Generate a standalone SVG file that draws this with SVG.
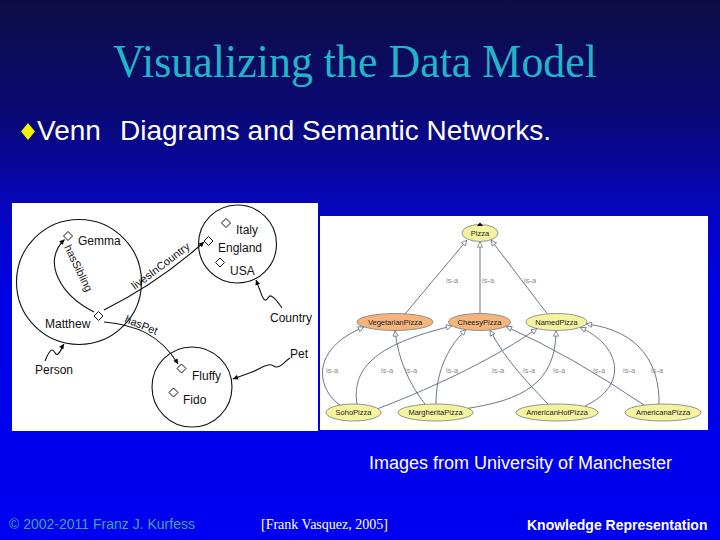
<svg xmlns="http://www.w3.org/2000/svg" width="720" height="540" viewBox="0 0 720 540">
<defs>
  <linearGradient id="bg" x1="0" y1="0" x2="0" y2="1">
    <stop offset="0" stop-color="#0d0d45"/>
    <stop offset="0.2" stop-color="#0a0a72"/>
    <stop offset="0.4" stop-color="#0505c2"/>
    <stop offset="0.55" stop-color="#0000e6"/>
    <stop offset="1" stop-color="#0000f2"/>
  </linearGradient>
  <marker id="blk" viewBox="0 0 10 10" refX="10" refY="5" markerWidth="6" markerHeight="5" markerUnits="userSpaceOnUse" orient="auto">
    <path d="M0,0 L10,5 L0,10 z" fill="#000"/>
  </marker>
  <marker id="open" viewBox="0 0 10 10" refX="10" refY="5" markerWidth="7" markerHeight="6" markerUnits="userSpaceOnUse" orient="auto">
    <path d="M0.6,0.6 L9.4,5 L0.6,9.4 z" fill="#fff" stroke="#5a6878" stroke-width="1.2"/>
  </marker>
</defs>
<style>
  .title{font-family:"Liberation Serif","Times New Roman",serif;fill:#22b4c8}
  .bul{font-family:"Liberation Sans",Arial,sans-serif;font-size:28px;fill:#ffffff}
  .vt{font-family:"Liberation Sans",Arial,sans-serif;font-size:12px;fill:#111}
  .rl{font-family:"Liberation Sans",Arial,sans-serif;font-size:11px;fill:#111}
  .cls{fill:none;stroke:#111;stroke-width:1.1}
  .ind{fill:#fff;stroke:#111;stroke-width:1}
  .rel{fill:none;stroke:#111;stroke-width:1.1;marker-end:url(#blk)}
  .ell{stroke:#7a7a7a;stroke-width:0.8}
  .yel{fill:#f4f4a0}
  .org{fill:#f4b47c}
  .pt{font-family:"Liberation Sans",Arial,sans-serif;font-size:7.5px;fill:#222;text-anchor:middle}
  .isa{fill:none;stroke:#5a6878;stroke-width:0.9;marker-end:url(#open)}
  .il{font-family:"Liberation Sans",Arial,sans-serif;font-size:7.5px;fill:#8a8a8a}
  .ft{font-family:"Liberation Sans",Arial,sans-serif}
</style>
<rect x="0" y="0" width="720" height="540" fill="url(#bg)"/>

<text class="title" x="355" y="77" font-size="46" text-anchor="middle" textLength="484" lengthAdjust="spacingAndGlyphs">Visualizing the Data Model</text>
<polygon points="28,123 35,131.5 28,140 21,131.5" fill="#f2f200"/>
<text class="bul" y="140"><tspan x="37">Venn</tspan><tspan x="120">Diagrams and Semantic Networks.</tspan></text>

<!-- Venn diagram image -->
<g id="venn">
  <rect x="12" y="203" width="306" height="228" fill="#ffffff"/>
  <g id="Person">
    <circle class="cls" cx="79" cy="282" r="62.5"/>
    <text class="vt" x="35" y="374">Person</text>
  </g>
  <g id="Country">
    <circle class="cls" cx="237.5" cy="244" r="39"/>
    <text class="vt" x="270" y="322">Country</text>
  </g>
  <g id="Pet">
    <circle class="cls" cx="192" cy="387" r="40"/>
    <text class="vt" x="290" y="358">Pet</text>
  </g>
  <g id="Gemma">
    <polygon class="ind" points="68,231.5 72.5,236 68,240.5 63.5,236"/>
    <text class="vt" x="78" y="245">Gemma</text>
  </g>
  <g id="Matthew">
    <polygon class="ind" points="98.5,311.5 103,316 98.5,320.5 94,316"/>
    <text class="vt" x="45" y="328">Matthew</text>
  </g>
  <g id="Italy">
    <polygon class="ind" points="226,218.5 230.5,223 226,227.5 221.5,223"/>
    <text class="vt" x="236" y="234">Italy</text>
  </g>
  <g id="England">
    <polygon class="ind" points="208.5,236.5 213,241 208.5,245.5 204,241"/>
    <text class="vt" x="218" y="252">England</text>
  </g>
  <g id="USA">
    <polygon class="ind" points="220,258 224.5,262.5 220,267 215.5,262.5"/>
    <text class="vt" x="230" y="275">USA</text>
  </g>
  <g id="Fluffy">
    <polygon class="ind" points="181.5,364 186,368.5 181.5,373 177,368.5"/>
    <text class="vt" x="192" y="380">Fluffy</text>
  </g>
  <g id="Fido">
    <polygon class="ind" points="173.5,388 178,392.5 173.5,397 169,392.5"/>
    <text class="vt" x="183" y="404">Fido</text>
  </g>
  <g id="venn-connectors">
    <path class="rel" d="M94,312 C60,295 42,262 64.5,239.5"/>
    <path class="rel" d="M104,310 C140,292 175,268 204,242"/>
    <path class="rel" d="M104,322 C135,325 160,334 178,364"/>
    <path class="rel" d="M45,361 C47,356 50,350 52,350 C55,350 55,356 58,354 C61,352 62,347 64,344"/>
    <path class="rel" d="M282,308 C278,302 274,297 271,296 C268,295 268,301 265,300 C262,299 261,292 259,288 L256,280"/>
    <path class="rel" d="M290,358 C284,362 280,368 276,367 C273,366 272,364 268,365 C262,366 258,370 252,372 L233,379"/>
    <text class="rl" transform="translate(64,247) rotate(64)">hasSibling</text>
    <text class="rl" transform="translate(135,290) rotate(-37)">livesInCountry</text>
    <text class="rl" transform="translate(124,322) rotate(22)">hasPet</text>
  </g>
</g>

<!-- Semantic network image -->
<g id="network">
  <rect x="320" y="216" width="388" height="214" fill="#ffffff"/>
  <g id="isa-connectors">
    <path class="isa" d="M405,314 L467,240"/>
    <path class="isa" d="M480,313.5 L480,241.5"/>
    <path class="isa" d="M547,313.5 L491,240"/>
    <path class="isa" d="M340,405 C318,390 308,350 364,327"/>
    <path class="isa" d="M357,404 C352,370 372,345 452,326"/>
    <path class="isa" d="M378,408.6 C440,385 500,355 537,328.5"/>
    <path class="isa" d="M425,404 C410,385 398,360 395,330.5"/>
    <path class="isa" d="M436,404 C436,375 445,350 466,329.5"/>
    <path class="isa" d="M468,408.3 C520,400 556,385 556,330.5"/>
    <path class="isa" d="M548,404 C530,385 505,360 490,330"/>
    <path class="isa" d="M585,406 C630,385 620,345 580,327.5"/>
    <path class="isa" d="M644,405 Q570,355 506,326.5"/>
    <path class="isa" d="M659,404 C660,365 640,330 586,324"/>
    <text class="il" x="446" y="283">is-a</text>
    <text class="il" x="482" y="283">is-a</text>
    <text class="il" x="524" y="283">is-a</text>
    <text class="il" x="326" y="373">is-a</text>
    <text class="il" x="381" y="373">is-a</text>
    <text class="il" x="405" y="373">is-a</text>
    <text class="il" x="446" y="373">is-a</text>
    <text class="il" x="492" y="373">is-a</text>
    <text class="il" x="523" y="373">is-a</text>
    <text class="il" x="553" y="373">is-a</text>
    <text class="il" x="593" y="373">is-a</text>
    <text class="il" x="623" y="373">is-a</text>
    <text class="il" x="651" y="373">is-a</text>
  </g>
  <g id="Pizza">
    <ellipse class="ell yel" cx="480" cy="233" rx="18" ry="8.5"/>
    <polygon points="477,226 480,222.5 483,226" fill="#000"/>
    <text class="pt" x="480" y="235.8">Pizza</text>
  </g>
  <g id="VegetarianPizza">
    <ellipse class="ell org" cx="395" cy="322" rx="38" ry="8.5"/>
    <text class="pt" x="395" y="324.8">VegetarianPizza</text>
  </g>
  <g id="CheesyPizza">
    <ellipse class="ell org" cx="479.5" cy="322" rx="31" ry="8.5"/>
    <text class="pt" x="479.5" y="324.8">CheesyPizza</text>
  </g>
  <g id="NamedPizza">
    <ellipse class="ell yel" cx="556.5" cy="322" rx="30.5" ry="8.5"/>
    <text class="pt" x="556.5" y="324.8">NamedPizza</text>
  </g>
  <g id="SohoPizza">
    <ellipse class="ell yel" cx="353.5" cy="412.5" rx="27.5" ry="8.5"/>
    <text class="pt" x="353.5" y="415.3">SohoPizza</text>
  </g>
  <g id="MargheritaPizza">
    <ellipse class="ell yel" cx="435.5" cy="412.5" rx="37.5" ry="8.5"/>
    <text class="pt" x="435.5" y="415.3">MargheritaPizza</text>
  </g>
  <g id="AmericanHotPizza">
    <ellipse class="ell yel" cx="557" cy="412.5" rx="41" ry="8.5"/>
    <text class="pt" x="557" y="415.3">AmericanHotPizza</text>
  </g>
  <g id="AmericanaPizza">
    <ellipse class="ell yel" cx="663" cy="412.5" rx="38" ry="8.5"/>
    <text class="pt" x="663" y="415.3">AmericanaPizza</text>
  </g>
</g>

<text class="ft" x="369" y="469" font-size="18" fill="#ffffff">Images from University of Manchester</text>
<text class="ft" x="9" y="529" font-size="14" fill="#3aa6a6">© 2002-2011 Franz J. Kurfess</text>
<text x="261" y="529" font-size="14" fill="#ffffff" font-family="'Liberation Serif','Times New Roman',serif">[Frank Vasquez, 2005]</text>
<text class="ft" x="527" y="530" font-size="14" font-weight="bold" fill="#ffffff">Knowledge Representation</text>
</svg>
